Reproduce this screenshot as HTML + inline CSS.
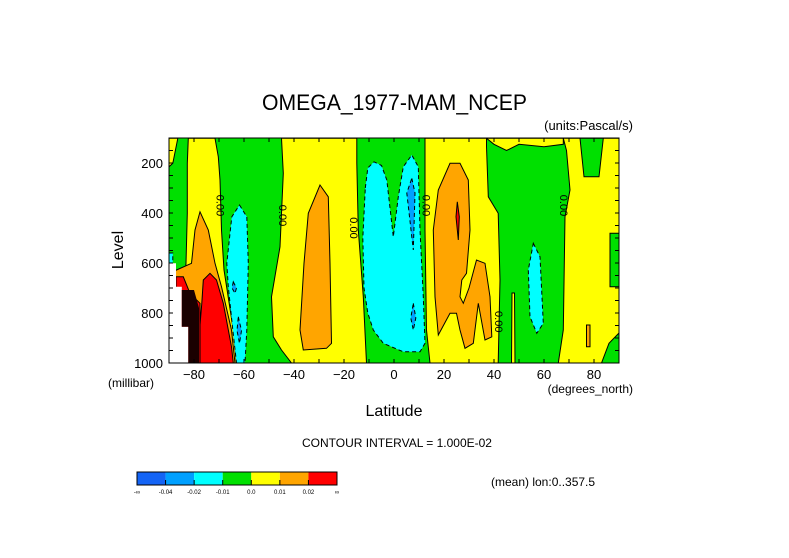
<!DOCTYPE html>
<html><head><meta charset="utf-8"><style>
body{margin:0;background:#fff}
svg{display:block;font-family:"Liberation Sans",sans-serif}
</style></head><body>
<svg id="chart" width="789" height="558" viewBox="0 0 789 558" xmlns="http://www.w3.org/2000/svg">
<rect width="789" height="558" fill="#fff"/>
<g id="plot"></g>
<g id="axes"></g>
<text x="262" y="110" font-size="22" textLength="265" lengthAdjust="spacingAndGlyphs">OMEGA_1977-MAM_NCEP</text>
<text x="633" y="130" font-size="13" text-anchor="end">(units:Pascal/s)</text>
<text transform="translate(123,250) rotate(-90)" font-size="16" text-anchor="middle">Level</text>
<text x="108" y="387" font-size="12">(millibar)</text>
<text x="633" y="393" font-size="12" text-anchor="end">(degrees_north)</text>
<text x="394" y="416" font-size="16" text-anchor="middle">Latitude</text>
<text x="397" y="447" font-size="12" text-anchor="middle">CONTOUR INTERVAL = 1.000E-02</text>
<text x="491" y="486" font-size="12">(mean) lon:0..357.5</text>
<g id="cbar"></g>
</svg>
<script>
const latTicks=[-80,-60,-40,-20,0,20,40,60,80];
const levelTicks=[200,400,600,800,1000];
const cbarColors=["#1464f5","#00a0ff","#00ffff","#00e000","#ffff00","#ffa500","#ff0000"];
const cbarLabels=["-∞","-0.04","-0.02","-0.01","0.0","0.01","0.02","∞"];
// filled regions: [lat, level] pairs
const yellowA=[[-82.3,101],[-71.6,101],[-70.3,175],[-69.6,268],[-69,468],[-68,628],[-64.3,868],[-63,1000],[-89.6,1000],[-89.6,868],[-87,815],[-84.3,735],[-83.2,601],[-82.7,401],[-82.7,201]];
const yellowB=[[-90,101],[-86.5,101],[-88.5,201],[-90,215]];
const yellowC=[[-45,101],[-14.9,101],[-14.9,201],[-14.3,468],[-12.3,735],[-11,1000],[-41,1000],[-45,948],[-48.3,895],[-49,735],[-45.6,535],[-44.3,241]];
const yellowD=[[12.4,101],[37,101],[37,135],[37.7,335],[41.7,401],[42.4,668],[41.7,1000],[14.4,1000],[13,868],[12.4,468]];
const yellowE=[[37,101],[67.7,101],[67.7,125],[60,135],[50,125],[45,150],[40,125]];
const yellowF=[[67.7,101],[90,101],[90,481],[86.4,481],[86.4,695],[90,695],[90,880],[86,921],[83,1000],[65.7,1000],[67.7,868],[68.4,415],[70.4,308],[69,150]];
const yellowG=[[47.2,720],[48.2,720],[48.4,1000],[47,1000]];
const greenNotch=[[74.4,101],[83.7,101],[82,255],[76,255]];
const orangeA=[[-77.6,395],[-74.3,468],[-71.6,601],[-69,695],[-65,868],[-63.6,1000],[-89.6,1000],[-89.6,641],[-87,628],[-81,601],[-79.6,468]];
const orangeB=[[-29.6,288],[-26.3,335],[-25.6,601],[-25,921],[-27,941],[-36.3,948],[-37.6,868],[-36,601],[-34.3,401]];
const orangeC=[[22.4,201],[26.4,201],[29.7,268],[30.4,468],[29,641],[27.1,668],[26.4,735],[27.7,761],[30,700],[33,588],[36.4,601],[38.4,735],[39.1,895],[36.4,908],[33.7,761],[31.7,921],[28.4,941],[26.4,868],[25,801],[22.4,801],[17.7,888],[16.4,735],[15.7,468],[17.7,308]];
const orangeD=[[77,848],[78.4,848],[78.4,935],[77,935]];
const redA=[[-73.6,641],[-71,668],[-68.3,761],[-65,935],[-64.3,1000],[-78.9,1000],[-76.9,761],[-76.3,668]];
const redB=[[-87.2,655],[-84.3,655],[-81.6,721],[-77.6,761],[-77.6,1000],[-87.2,1000]];
const redC=[[25.3,355],[26.1,415],[25.7,508],[24.8,415]];
const cyanA=[[-61.8,368],[-58.9,415],[-58.3,601],[-58.9,868],[-59.6,1000],[-63,1000],[-64.5,868],[-66.3,695],[-66.9,601],[-64.9,415]];
const cyanB=[[-11.5,300],[-10.5,220],[-8,195],[-5,210],[-2.9,268],[-0.3,495],[1.7,335],[3.7,215],[7.1,168],[9.7,215],[10.4,468],[11.7,735],[12.4,921],[10.4,955],[3.7,955],[-4.3,921],[-8.3,868],[-10.5,800],[-12,700],[-12.5,500]];
const cyanC=[[55.7,521],[58.4,575],[59.7,841],[57.1,881],[54.4,815],[53.7,628]];
const cyanD=[[-90,560],[-88.5,560],[-88.5,620],[-90,620]];
const blueA=[[7.1,261],[8.4,320],[7.7,548],[5.1,320]];
const blueB=[[7.7,761],[8.7,820],[7.7,868],[6.7,820]];
const blueC=[[-64.3,675],[-63,700],[-63.6,721],[-64.8,700]];
const blueD=[[-62.3,815],[-61,870],[-61.8,921],[-62.8,870]];
const whiteA=[[-90,601],[-87.2,601],[-87.2,695],[-84.9,695],[-84.9,855],[-82.3,855],[-82.3,1000],[-90,1000]];
const blackA=[[-84.9,708],[-80,708],[-78,780],[-78,1000],[-82.3,1000],[-82.3,855],[-84.9,855]];
const labelLats=[-69.5,-44.5,-16,13,42,68];
const labelLevels=[370,410,460,370,835,370];

const L=169,R=619,T=138,B=363;
function xs(lat){return L+(lat+90)/180*(R-L);}
function ys(lev){return T+(lev-100)/900*(B-T);}
const NS="http://www.w3.org/2000/svg";
const plot=document.getElementById('plot');
function el(tag,attrs,parent){const e=document.createElementNS(NS,tag);for(const k in attrs)e.setAttribute(k,attrs[k]);parent.appendChild(e);return e;}
const bg=el('rect',{x:L,y:T,width:R-L,height:B-T,fill:"#00e000"},plot);


function poly(pts,fill,dashed,name,stroke){
  const p=el('polygon',{points:pts.map(q=>xs(q[0]).toFixed(1)+','+ys(q[1]).toFixed(1)).join(' '),fill:fill,stroke:stroke===false?'none':'#000','stroke-width':1},plot);
  if(dashed)p.setAttribute('stroke-dasharray','4,3');
  
  
}
poly(yellowA,"#ffff00",false,'yellow-region');
poly(yellowB,"#ffff00",false,'yellow-region');
poly(yellowC,"#ffff00",false,'yellow-region');
poly(yellowD,"#ffff00",false,'yellow-region');
poly(yellowE,"#ffff00",false,'yellow-region');
poly(yellowF,"#ffff00",false,'yellow-region');
poly(yellowG,"#ffff00",false,'yellow-region');
poly(greenNotch,"#00e000",false,'green-region');
poly(orangeA,"#ffa500",false,'orange-region');
poly(orangeB,"#ffa500",false,'orange-region');
poly(orangeC,"#ffa500",false,'orange-region');
poly(orangeD,"#ffa500",false,'orange-region');
poly(redA,"#ff0000",false,'red-region');
poly(redB,"#ff0000",false,'red-region');
poly(redC,"#ff0000",false,'red-region');
poly(cyanA,"#00ffff",true,'cyan-region');
poly(cyanB,"#00ffff",true,'cyan-region');
poly(cyanC,"#00ffff",true,'cyan-region');
poly(cyanD,"#00ffff",true,'cyan-region');
poly(blueA,"#00a0ff",true,'blue-region');
poly(blueB,"#00a0ff",true,'blue-region');
poly(blueC,"#00a0ff",true,'blue-region');
poly(blueD,"#00a0ff",true,'blue-region');
poly(whiteA,"#ffffff",false,'missing-data-region',false);
poly(blackA,"#1a0000",false,'dense-contour-region',false);
for(let i=0;i<labelLats.length;i++){
  const t=el('text',{transform:`translate(${xs(labelLats[i])-4},${ys(labelLevels[i])}) rotate(90)`,'font-size':11,'text-anchor':'middle',fill:'#000'},plot);
  t.textContent='0.00';
  
  
}
const axes=document.getElementById('axes');
const fr=el('rect',{x:L,y:T,width:R-L,height:B-T,fill:'none',stroke:'#000','stroke-width':1},axes);


for(let lat=-80;lat<=80;lat+=10){
  el('line',{x1:xs(lat),x2:xs(lat),y1:B,y2:B-4,stroke:'#000'},axes);
  el('line',{x1:xs(lat),x2:xs(lat),y1:T,y2:T+4,stroke:'#000'},axes);
}
for(let lev=150;lev<=950;lev+=50){
  el('line',{x1:L,x2:L+4,y1:ys(lev),y2:ys(lev),stroke:'#000'},axes);
  el('line',{x1:R,x2:R-4,y1:ys(lev),y2:ys(lev),stroke:'#000'},axes);
}
latTicks.forEach(v=>{
  const t=el('text',{x:xs(v),y:B+16,'font-size':13,'text-anchor':'middle'},axes);
  t.textContent=v<0?'−'+(-v):String(v);
  
  
});
levelTicks.forEach(v=>{
  const t=el('text',{x:L-6,y:ys(v)+5,'font-size':13,'text-anchor':'end'},axes);
  t.textContent=String(v);
  
  
});
const cb=document.getElementById('cbar');
const cx0=137,cw=200/cbarColors.length;
cbarColors.forEach((c,i)=>{
  const r=el('rect',{x:cx0+i*cw,y:472,width:cw,height:13,fill:c},cb);
  
  
});
el('rect',{x:cx0,y:472,width:200,height:13,fill:'none',stroke:'#000'},cb);
cbarLabels.forEach((s,i)=>{
  el('line',{x1:cx0+i*cw,x2:cx0+i*cw,y1:480,y2:485,stroke:'#000'},cb);
  const t=el('text',{x:cx0+i*cw,y:494,'font-size':6,'text-anchor':'middle'},cb);
  t.textContent=s;
  
  
});
</script>
</body></html>
